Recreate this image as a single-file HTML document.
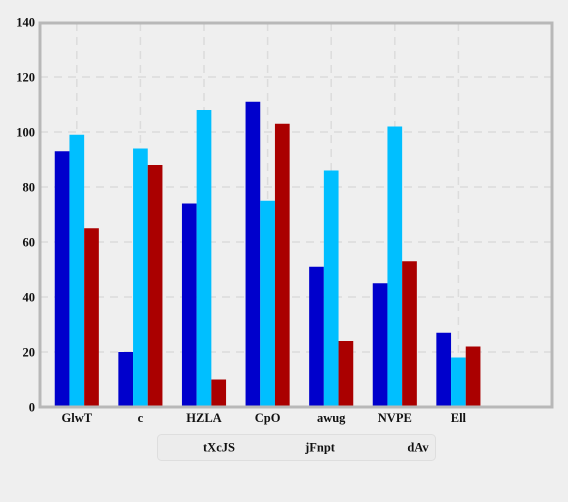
<!DOCTYPE html>
<html><head><meta charset="utf-8"><style>
html,body{margin:0;padding:0;background:#efefef;}
svg text{font-family:"Liberation Serif",serif;font-weight:bold;font-size:12.5px;fill:#111;}
</style></head><body>
<svg id="c" width="568" height="497" xmlns="http://www.w3.org/2000/svg">
<rect x="0" y="0" width="568" height="497" fill="#efefef"/>
<g id="grid"></g><g id="bars"></g><g id="axes"></g>
<rect x="40" y="23" width="512" height="384" fill="none" stroke="#b8b8b8" stroke-width="3"/>
<g>
<rect x="157.5" y="434.5" width="278" height="26" rx="4" fill="#ececec" stroke="#dedede"/>
<text x="219" y="451.5" text-anchor="middle">tXcJS</text>
<text x="320" y="451.5" text-anchor="middle">jFnpt</text>
<text x="418" y="451.5" text-anchor="middle">dAv</text>
</g>
</svg>
<script>
const categories=["GlwT","c","HZLA","CpO","awug","NVPE","Ell"];
const seriesA=[93,20,74,111,51,45,27];
const seriesB=[99,94,108,75,86,102,18];
const seriesC=[65,88,10,103,24,53,22];
const yTicks=[0,20,40,60,80,100,120,140];
const NS="http://www.w3.org/2000/svg";
const x0=45,band=63.6,yBase=407,yTop=22,yMax=140;
const xCenter=i=>x0+band*(i+0.5);
const yPos=v=>yBase-(v/yMax)*(yBase-yTop);
function mk(tag,attrs,parent){const e=document.createElementNS(NS,tag);for(const k in attrs)e.setAttribute(k,attrs[k]);parent.appendChild(e);return e;}
const grid=document.getElementById('grid'),bars=document.getElementById('bars'),axes=document.getElementById('axes');
yTicks.forEach(t=>{
 const y=yPos(t);
 if(t>0&&t<yMax){const l=mk('line',{x1:40,x2:552,y1:y,y2:y,stroke:'#dcdcdc','stroke-width':1.5,'stroke-dasharray':'8,6'},grid);
 
 }
 const tx=mk('text',{x:35,y:y+4.5,'text-anchor':'end'},axes);tx.textContent=t;
 
 
});
categories.forEach((c,i)=>{
 const cx=xCenter(i);
 const l=mk('line',{x1:cx,x2:cx,y1:23,y2:407,stroke:'#dcdcdc','stroke-width':1.5,'stroke-dasharray':'8,6'},grid);
 
 
 const tx=mk('text',{x:cx,y:422,'text-anchor':'middle'},axes);tx.textContent=c;
 
 
});
const series=[[seriesA,'#0000cc'],[seriesB,'#00bfff'],[seriesC,'#aa0000']];
const bw=14.7;
series.forEach(([vals,col],s)=>{
 vals.forEach((v,i)=>{
  const x=xCenter(i)-1.5*bw+s*bw;
  const r=mk('rect',{x:x,y:yPos(v),width:bw,height:yBase-yPos(v),fill:col},bars);
  
  
 });
});
</script>
</body></html>
